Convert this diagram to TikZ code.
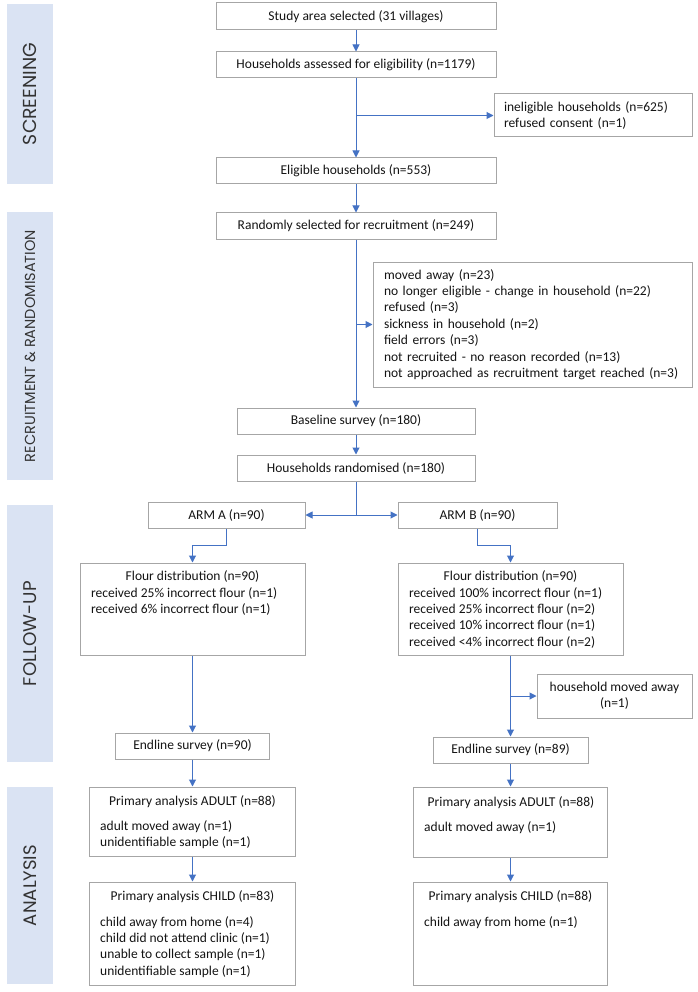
\documentclass[tikz,border=0pt]{standalone}
\usepackage{fontspec}
\usepackage{graphicx}
\usetikzlibrary{arrows.meta}
\newfontfamily\carlfont{Carlito}
\newfontfamily\sidefontfam{Poppins}
\newcommand\myboxfont{\carlfont\fontsize{13.5pt}{16.4pt}\selectfont}
\newcommand\mysidefont{\sidefontfam\fontsize{18pt}{20pt}\selectfont}
\definecolor{sidefill}{HTML}{DAE3F3}
\definecolor{boxgray}{HTML}{A6A6A6}
\definecolor{arrowblue}{HTML}{4472C4}
\definecolor{txt}{HTML}{141414}
\definecolor{sidetxt}{HTML}{333333}
\tikzset{
  box/.style={draw=boxgray, line width=1pt, fill=white, inner sep=0pt, font=\myboxfont, text=txt},
  side/.style={fill=sidefill, draw=none, inner sep=0pt, rotate=90, font=\mysidefont, text=sidetxt, minimum height=46pt},
  lbl/.style={inner sep=0pt, font=\myboxfont, text=txt},
  arr/.style={draw=arrowblue, line width=1pt, -{Triangle[length=7pt,width=7pt]}},
  conn/.style={draw=arrowblue, line width=1pt},
}
\begin{document}
\begin{tikzpicture}[x=1pt,y=-1pt]
\useasboundingbox (0,0) rectangle (697,992);
\fill[white] (0,0) rectangle (697,992);

% sidebars
\node[side, minimum width=180pt] (s1) at (30,94) {\resizebox{102pt}{!}{SCREENING}};
\node[side, minimum width=268pt] (s2) at (30,346) {\resizebox{232pt}{!}{RECRUITMENT \& RANDOMISATION}};
\node[side, minimum width=257pt] (s3) at (30,633.5) {\resizebox{105pt}{!}{FOLLOW-UP}};
\node[side, minimum width=197pt] (s4) at (30,885.5) {\resizebox{81pt}{!}{ANALYSIS}};

% main column
\node[box, minimum width=280pt, minimum height=27pt] (study) at (356,16.5) {Study area selected (31 villages)};
\node[box, minimum width=280pt, minimum height=26pt] (assess) at (356,65) {Households assessed for eligibility (n=1179)};
\node[box, inner xsep=10pt, text width=178pt, align=left, minimum height=43pt] (inelig) at (593,115.5) {ineligible households (n=625)\\refused consent (n=1)};
\node[box, minimum width=280pt, minimum height=26pt] (elig) at (356,171) {Eligible households (n=553)};
\node[box, minimum width=280pt, minimum height=26pt] (random) at (356,226) {Randomly selected for recruitment (n=249)};
\node[box, inner xsep=11pt, text width=297pt, align=left, minimum height=125pt] (excl) at (532.5,324.5) {moved away (n=23)\\no longer eligible - change in household (n=22)\\refused (n=3)\\sickness in household (n=2)\\field errors (n=3)\\not recruited - no reason recorded (n=13)\\not approached as recruitment target reached (n=3)};
\node[box, minimum width=238pt, minimum height=26pt] (base) at (356,421) {Baseline survey (n=180)};
\node[box, minimum width=238pt, minimum height=26pt] (rand) at (356,468) {Households randomised (n=180)};

% arms
\node[box, minimum width=157pt, minimum height=26pt] (armA) at (226.5,515) {ARM A (n=90)};
\node[box, minimum width=159pt, minimum height=26pt] (armB) at (477.5,515) {ARM B (n=90)};

\node[box, minimum width=225pt, minimum height=92pt] (flourA) at (192.5,609) {};
\node[lbl, anchor=base] (flourAt) at (192.5,580) {Flour distribution (n=90)};
\node[lbl, anchor=base west] (flourAl) at (91,597) {\parbox[t]{205pt}{received 25\% incorrect flour (n=1)\\received 6\% incorrect flour (n=1)}};

\node[box, minimum width=225pt, minimum height=92pt] (flourB) at (510.5,609) {};
\node[lbl, anchor=base] (flourBt) at (510.5,580) {Flour distribution (n=90)};
\node[lbl, anchor=base west] (flourBl) at (409,597) {\parbox[t]{205pt}{received 100\% incorrect flour (n=1)\\received 25\% incorrect flour (n=2)\\received 10\% incorrect flour (n=1)\\received <4\% incorrect flour (n=2)}};

\node[box, minimum width=155pt, minimum height=44pt, align=center] (moved) at (614.5,696) {household moved away\\(n=1)};

\node[box, minimum width=154pt, minimum height=26pt] (endA) at (192.5,746) {Endline survey (n=90)};
\node[box, minimum width=155pt, minimum height=26pt] (endB) at (510.5,750) {Endline survey (n=89)};

\node[box, minimum width=206pt, minimum height=69pt] (adultA) at (192.5,821.5) {};
\node[lbl, anchor=base] (adultAt) at (192.5,805) {Primary analysis ADULT (n=88)};
\node[lbl, anchor=base west] (adultAl) at (100,830) {\parbox[t]{190pt}{adult moved away (n=1)\\unidentifiable sample (n=1)}};

\node[box, minimum width=206pt, minimum height=103pt] (childA) at (192.5,933.5) {};
\node[lbl, anchor=base] (childAt) at (192.5,900) {Primary analysis CHILD (n=83)};
\node[lbl, anchor=base west] (childAl) at (100,926) {\parbox[t]{190pt}{child away from home (n=4)\\child did not attend clinic (n=1)\\unable to collect sample (n=1)\\unidentifiable sample (n=1)}};

\node[box, minimum width=194pt, minimum height=70pt] (adultB) at (510.5,822) {};
\node[lbl, anchor=base] (adultBt) at (511,806) {Primary analysis ADULT (n=88)};
\node[lbl, anchor=base west] (adultBl) at (424,831) {adult moved away (n=1)};

\node[box, minimum width=194pt, minimum height=103pt] (childB) at (510.5,933.5) {};
\node[lbl, anchor=base] (childBt) at (510.5,900) {Primary analysis CHILD (n=88)};
\node[lbl, anchor=base west] (childBl) at (424,926) {child away from home (n=1)};

% connectors
\draw[arr] (study) -- (assess);
\draw[arr] (assess) -- (elig);
\draw[arr] (assess.south |- inelig.west) -- (inelig.west);
\draw[arr] (elig) -- (random);
\draw[arr] (random) -- (base);
\draw[arr] (random.south |- excl.west) -- (excl.west);
\draw[arr] (base) -- (rand);
\coordinate (split) at (rand.south |- armA.east);
\draw[conn] (rand.south) -- (split);
\draw[arr] (split) -- (armA.east);
\draw[arr] (split) -- (armB.west);
\draw[arr] (armA.south) -- ++(0,17) -| (flourA.north);
\draw[arr] (armB.south) -- ++(0,17) -| (flourB.north);
\draw[arr] (flourA.south) -- (endA.north);
\draw[arr] (flourB.south) -- (endB.north);
\draw[arr] (flourB.south |- moved.west) -- (moved.west);
\draw[arr] (endA) -- (adultA);
\draw[arr] (adultA) -- (childA);
\draw[arr] (endB) -- (adultB);
\draw[arr] (adultB) -- (childB);
\end{tikzpicture}
\end{document}
